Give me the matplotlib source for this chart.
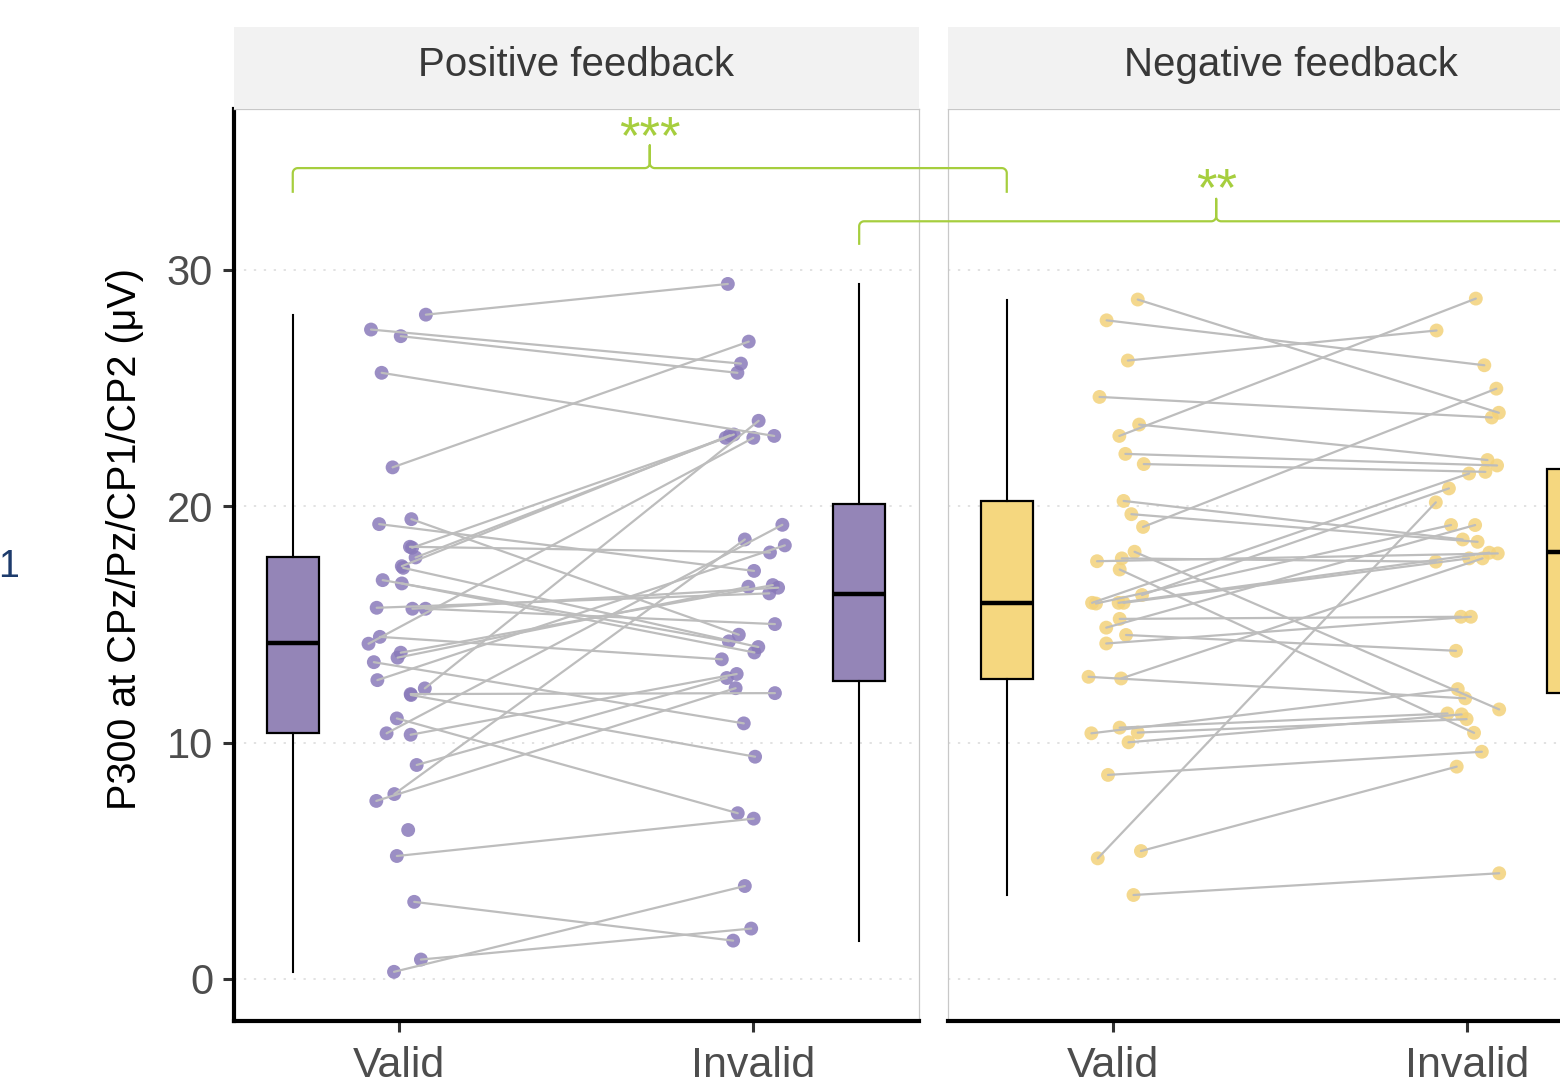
import numpy as np
import matplotlib
matplotlib.use("Agg")
import matplotlib.pyplot as plt
from matplotlib.lines import Line2D

plt.rcParams['font.family'] = ['Liberation Sans', 'DejaVu Sans']

# ---------------------------------------------------------------- data
conditions = ["Valid", "Invalid"]
panels = ["Positive feedback", "Negative feedback"]
y_ticks = [0, 10, 20, 30]

# P300 amplitudes per participant (paired rows: valid -> invalid)
pos_valid = [28.10, 27.47, 27.19, 25.64, 21.64, 19.24, 19.45, 18.28, 18.24, 17.83,
             17.46, 17.39, 16.87, 16.73, 15.70, 15.66, 15.66, 14.47, 14.18, 13.80,
             13.59, 13.40, 12.64, 12.29, 12.05, 12.01, 11.02, 10.39, 10.33, 9.05,
             7.82, 7.53, 6.30, 5.20, 3.26, 0.82, 0.30]
pos_invalid = [29.40, 26.03, 25.64, 22.97, 26.96, 17.26, 14.56, 18.04, 22.89, 23.03,
               23.00, 14.04, 14.28, 13.81, 16.31, 16.55, 15.01, 13.52, 22.89, 16.66,
               16.59, 10.81, 18.34, 23.61, 12.09, 9.40, 7.01, 19.21, 12.90, 12.73,
               18.59, 12.30, np.nan, 6.78, 1.62, 2.13, 3.93]
pos_valid_jit = [0.076, -0.079, 0.005, -0.049, -0.018, -0.056, 0.035, 0.031, 0.037, 0.047,
                 0.008, 0.012, -0.046, 0.008, -0.063, 0.038, 0.075, -0.054, -0.086, 0.005,
                 -0.004, -0.071, -0.061, 0.073, 0.033, 0.034, -0.006, -0.035, 0.033, 0.050,
                 -0.013, -0.064, 0.026, -0.006, 0.043, 0.062, -0.014]
pos_invalid_jit = [-0.071, -0.034, -0.044, 0.060, -0.012, 0.003, -0.040, 0.048, -0.077, -0.054,
                   -0.065, 0.015, -0.068, 0.004, 0.046, 0.071, 0.062, -0.088, 0.001, 0.056,
                   -0.013, -0.026, 0.090, 0.016, 0.062, 0.006, -0.043, 0.083, -0.046, -0.074,
                   -0.023, -0.049, 0.0, 0.002, -0.056, -0.005, -0.023]

neg_valid = [28.74, 27.86, 26.16, 24.62, 23.45, 22.97, 22.21, 21.78, 20.22, 19.66,
             19.12, 18.07, 17.79, 17.67, 17.32, 16.24, 15.91, 15.88, 15.91, 15.91,
             15.23, 14.86, 14.55, 14.19, 12.78, 12.71, 10.63, 10.42, 10.39, 10.01,
             8.63, 5.41, 5.10, 3.55]
neg_invalid = [23.95, 25.96, 27.43, 23.75, 21.95, 28.78, 21.72, 21.45, 18.59, 18.49,
               24.97, 11.40, 17.65, 18.00, 10.41, 20.75, 21.38, 19.20, 18.03, 17.79,
               15.32, 19.20, 13.88, 15.32, 11.87, 17.79, 11.23, 10.99, 12.26, 11.19,
               9.61, 8.98, 20.16, 4.47]
neg_valid_jit = [0.070, -0.018, 0.042, -0.038, 0.074, 0.018, 0.035, 0.087, 0.030, 0.052,
                 0.085, 0.061, 0.025, -0.045, 0.019, 0.082, -0.059, -0.048, 0.016, 0.030,
                 0.019, -0.019, 0.037, -0.019, -0.069, 0.023, 0.019, 0.070, -0.061, 0.044,
                 -0.014, 0.079, -0.043, 0.058]
neg_invalid_jit = [0.090, 0.049, -0.086, 0.070, 0.058, 0.025, 0.085, 0.052, -0.012, 0.030,
                   0.083, 0.091, -0.088, 0.087, 0.020, -0.051, 0.006, -0.045, 0.063, 0.006,
                   -0.017, 0.023, -0.031, 0.011, -0.005, 0.044, -0.055, -0.001, -0.026, -0.015,
                   0.042, -0.029, -0.088, 0.091]

# box summaries: lower whisker, Q1, median, Q3, upper whisker
pos_box = {"Valid": [0.30, 10.40, 14.20, 17.84, 28.10],
           "Invalid": [1.62, 12.60, 16.30, 20.10, 29.40]}
neg_box = {"Valid": [3.55, 12.70, 15.90, 20.20, 28.74],
           "Invalid": [4.47, 12.10, 18.05, 21.55, 28.78]}

sig_labels = ["***", "**"]

# ---------------------------------------------------------------- style
W, H = 1560, 1087
purple_pt, purple_box = "#8A7ABA", "#9485B7"
yellow_pt, yellow_box = "#F3D27A", "#F5D77F"
pair_line = "#BDBDBD"
green = "#A6CE3E"
tick_grey = "#4D4D4D"

fig = plt.figure(figsize=(W / 100, H / 100), dpi=100)


def fx(px):
    return px / W


def fy(py):
    return 1 - py / H


panel_w, panel_top, panel_bot = 685, 109, 1021
lefts = [234, 948]
axes = [fig.add_axes([fx(l), fy(panel_bot), panel_w / W, (panel_bot - panel_top) / H])
        for l in lefts]

xpos = np.arange(len(conditions))
box_pos = [-0.30, 1.30]
setup = [
    (axes[0], pos_valid, pos_invalid, pos_valid_jit, pos_invalid_jit, pos_box,
     purple_pt, purple_box),
    (axes[1], neg_valid, neg_invalid, neg_valid_jit, neg_invalid_jit, neg_box,
     yellow_pt, yellow_box),
]

for i, (ax, v, inv, vj, ij, box, cpt, cbox) in enumerate(setup):
    ax.set_xlim(-0.466, 1.469)
    ax.set_ylim(-1.78, 36.8)
    ax.set_axisbelow(True)
    ax.set_yticks(y_ticks)
    ax.yaxis.grid(True, color="#DADADA", linestyle=(0, (1.5, 5)), linewidth=1.1)
    ax.set_xticks(xpos)
    ax.set_xticklabels(conditions)
    ax.tick_params(axis="x", length=8, width=2.2, color="#333333",
                   labelsize=31, labelcolor=tick_grey, pad=10)
    if i == 0:
        ax.tick_params(axis="y", length=8, width=2.2, color="#333333",
                       labelsize=30, labelcolor=tick_grey, pad=7)
        ax.spines["left"].set_color("black")
        ax.spines["left"].set_linewidth(3)
    else:
        ax.tick_params(axis="y", length=0, labelleft=False)
        ax.spines["left"].set_color("#C8C8C8")
        ax.spines["left"].set_linewidth(0.9)
    ax.spines["bottom"].set_color("black")
    ax.spines["bottom"].set_linewidth(3)
    for s in ("top", "right"):
        ax.spines[s].set_color("#C8C8C8")
        ax.spines[s].set_linewidth(0.9)

    # boxes
    stats = []
    for cond in conditions:
        lo, q1, med, q3, hi = box[cond]
        stats.append(dict(whislo=lo, q1=q1, med=med, q3=q3, whishi=hi, fliers=[]))
    ax.bxp(stats, positions=box_pos, widths=0.147, patch_artist=True,
           showcaps=False, showfliers=False, manage_ticks=False,
           boxprops=dict(facecolor=cbox, edgecolor="black", linewidth=1.6),
           medianprops=dict(color="black", linewidth=3.2),
           whiskerprops=dict(color="black", linewidth=1.5), zorder=2)

    v = np.asarray(v, float)
    inv = np.asarray(inv, float)
    xv = xpos[0] + np.asarray(vj)
    xi = xpos[1] + np.asarray(ij)
    ax.scatter(xv, v, s=100, color=cpt, alpha=0.85, edgecolors="none", zorder=3)
    ok = ~np.isnan(inv)
    ax.scatter(xi[ok], inv[ok], s=100, color=cpt, alpha=0.85, edgecolors="none", zorder=3)
    for a, b, ya, yb in zip(xv[ok], xi[ok], v[ok], inv[ok]):
        ax.plot([a, b], [ya, yb], color=pair_line, lw=1.6, zorder=4,
                solid_capstyle="round")

# facet strips
for l, title in zip(lefts, panels):
    sax = fig.add_axes([fx(l), fy(panel_top), panel_w / W, (panel_top - 27) / H])
    sax.set_facecolor("#F2F2F2")
    for s in sax.spines.values():
        s.set_visible(False)
    sax.set_xticks([])
    sax.set_yticks([])
    sax.text(0.5, 0.54, title, ha="center", va="center", fontsize=29,
             color="#383838", transform=sax.transAxes)

# y-axis title
fig.text(fx(125), fy(539), "P300 at CPz/Pz/CP1/CP2 (\u03bcV)", rotation=90,
         ha="center", va="center", fontsize=28.5, color="black")

fig.text(fx(9), fy(567), "1", ha="center", va="center", fontsize=27, color="#1D3B6C")


# significance braces spanning the two panels
def brace(ax_a, xa, ax_b, xb, y_end, y_bar, y_peak, label, y_label):
    x0, yb = ax_a.transData.transform((xa, y_end))
    x1, _ = ax_b.transData.transform((xb, y_end))
    _, yh = ax_a.transData.transform((xa, y_bar))
    _, yp = ax_a.transData.transform((xa, y_peak))
    xm = (x0 + x1) / 2
    r = 5.0
    t = np.linspace(0, np.pi / 2, 12)
    xs, ys = [x0], [yb]
    # left corner
    xs += list(x0 + r - r * np.cos(t)); ys += list(yh - r + r * np.sin(t))
    # into the central cusp
    xs += list(xm - r + r * np.sin(t)); ys += list(yh + r - r * np.cos(t))
    xs += [xm, xm]; ys += [yp, yh + r]
    xs += list(xm + r - r * np.cos(t)); ys += list(yh + r - r * np.sin(t))
    # right corner
    xs += list(x1 - r + r * np.sin(t)); ys += list(yh - r + r * np.cos(t))
    xs += [x1]; ys += [yb]
    pts = fig.transFigure.inverted().transform(np.column_stack([xs, ys]))
    fig.add_artist(Line2D(pts[:, 0], pts[:, 1], transform=fig.transFigure,
                          color=green, lw=1.6, solid_joinstyle="round"))
    _, ylab = ax_a.transData.transform((xa, y_label))
    lx, ly = fig.transFigure.inverted().transform((xm, ylab))
    fig.text(lx, ly, label, ha="center", va="baseline", fontsize=38, color=green)


brace(axes[0], box_pos[0], axes[1], box_pos[0], 33.3, 34.3, 35.26, sig_labels[0], 34.95)
brace(axes[0], box_pos[1], axes[1], box_pos[1], 31.1, 32.05, 33.0, sig_labels[1], 32.72)

fig.savefig("out.png", dpi=100)
